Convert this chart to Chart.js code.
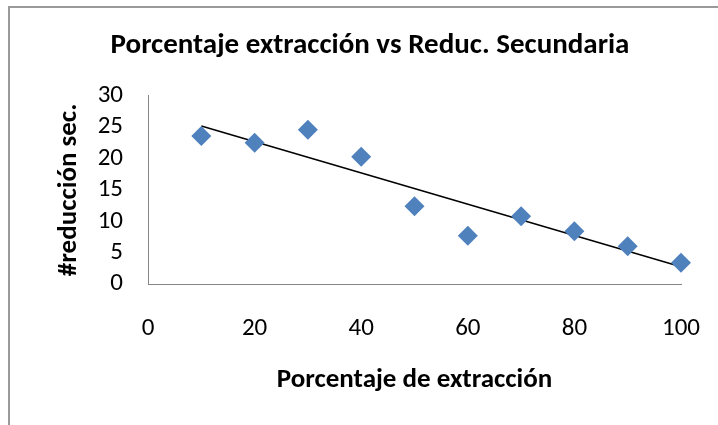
<!DOCTYPE html>
<html>
<head>
<meta charset="utf-8">
<script src="https://cdn.jsdelivr.net/npm/chart.js@4.4.1/dist/chart.umd.min.js"></script>
<style>
  body { margin: 0; background: #fff; }
  #wrap { position: relative; width: 718px; height: 425px; }
  #frame { position: absolute; left: 8px; top: 6px; right: -4px; bottom: -4px;
           border-left: 2px solid #9a9a9a; border-top: 2px solid #9a9a9a; pointer-events: none; }
</style>
</head>
<body>
<div id="wrap">
  <canvas id="canvas" width="718" height="425"></canvas>
  <div id="frame"></div>
</div>
<script>
/* datos */
var extraccion = [10, 20, 30, 40, 50, 60, 70, 80, 90, 100];
var reduccion = [23.6, 22.5, 24.6, 20.3, 12.4, 7.7, 10.8, 8.4, 6.0, 3.4];
var xTicks = [0, 20, 40, 60, 80, 100];
var yTicks = [0, 5, 10, 15, 20, 25, 30];

var fuente = "Carlito, Calibri, Lato, sans-serif";

/* linea de tendencia (minimos cuadrados) */
var n = extraccion.length, sx = 0, sy = 0, sxy = 0, sxx = 0;
for (var i = 0; i < n; i++) {
  sx += extraccion[i]; sy += reduccion[i];
  sxy += extraccion[i] * reduccion[i]; sxx += extraccion[i] * extraccion[i];
}
var pendiente = (n * sxy - sx * sy) / (n * sxx - sx * sx);
var corte = (sy - pendiente * sx) / n;
var xIni = extraccion[0], xFin = extraccion[n - 1];
var tendencia = [
  {x: xIni, y: corte + pendiente * xIni},
  {x: xFin, y: corte + pendiente * xFin}
];

var puntos = extraccion.map(function(x, i){
  return {x: x, y: reduccion[i]};
});

const ctx = document.getElementById('canvas');
new Chart(ctx, {
  type: 'scatter',
  data: {
    datasets: [{
      label: 'Reduc. Secundaria',
      data: puntos,
      pointStyle: 'rectRot',
      pointRadius: 10,
      pointHoverRadius: 10,
      backgroundColor: '#4F81BD',
      borderColor: '#4F81BD',
      borderWidth: 0,
      order: 1
    },
    {
      type: 'line',
      label: 'Tendencia',
      data: tendencia,
      borderColor: '#000000',
      borderWidth: 1.5,
      pointRadius: 0,
      fill: false,
      order: 2
    }]
  },
  options: {
    responsive: false,
    animation: false,
    clip: false,
    layout: {
      padding: {left: 22, right: 0, top: 0, bottom: 0}
    },
    plugins: {
      legend: { display: false },
      tooltip: { enabled: false },
      title: {
        display: true,
        text: 'Porcentaje extracción vs Reduc. Secundaria',
        color: '#000',
        font: { family: fuente, size: 29, weight: 'bold', lineHeight: 1.2 },
        padding: { top: 28, bottom: 33 }
      }
    },
    scales: {
      x: {
        type: 'linear',
        min: 0,
        max: 100,
        afterBuildTicks: function(scale){
          scale.ticks = xTicks.map(function(v){ return {value: v}; });
        },
        afterFit: function(scale){
          scale.height = 141;
          scale.paddingRight = 37;
        },
        grid: { display: false, drawTicks: false },
        border: { display: true, color: '#868686', width: 1 },
        ticks: { color: '#000', padding: 30, autoSkip: false, font: { family: fuente, size: 25 } },
        title: {
          display: true,
          text: 'Porcentaje de extracción',
          color: '#000',
          font: { family: fuente, size: 27, weight: 'bold', lineHeight: 1.2 },
          padding: { top: 0, bottom: 29 }
        }
      },
      y: {
        min: 0,
        max: 30,
        afterBuildTicks: function(scale){
          scale.ticks = yTicks.map(function(v){ return {value: v}; });
        },
        afterFit: function(scale){ scale.width = 126; },
        grid: { display: false, drawTicks: false },
        border: { display: true, color: '#868686', width: 1 },
        ticks: { color: '#000', padding: 25, autoSkip: false, font: { family: fuente, size: 25 } },
        title: {
          display: true,
          text: '#reducción sec.',
          color: '#000',
          font: { family: fuente, size: 27, weight: 'bold', lineHeight: 1.2 },
          padding: { top: 31, bottom: 0 }
        }
      }
    }
  }
});
</script>
</body>
</html>
